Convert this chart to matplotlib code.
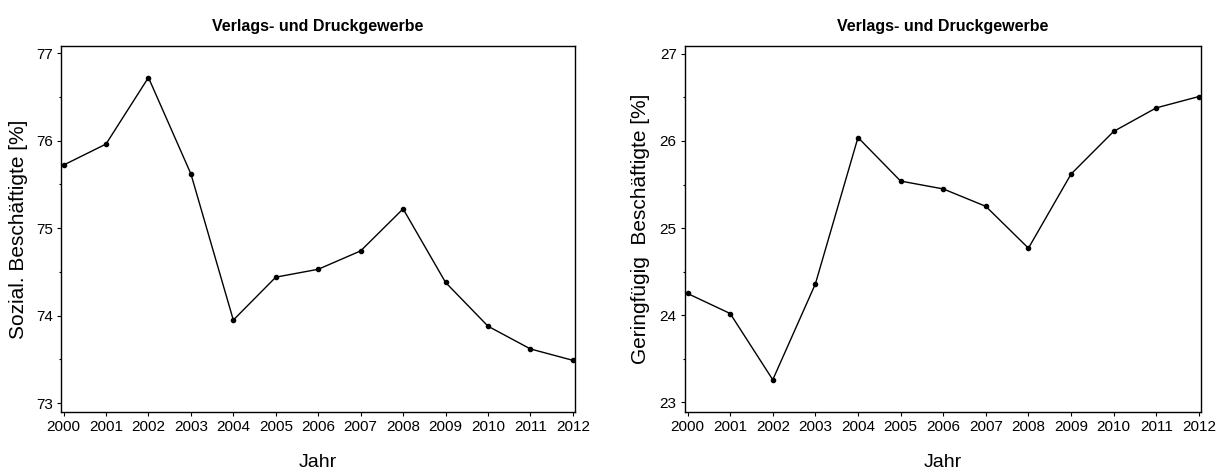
import matplotlib
matplotlib.use("Agg")
import matplotlib.pyplot as plt
from matplotlib.ticker import MultipleLocator
from matplotlib import font_manager

years = [2000, 2001, 2002, 2003, 2004, 2005, 2006, 2007, 2008, 2009, 2010, 2011, 2012]
sozial = [75.72, 75.96, 76.72, 75.62, 73.95, 74.44, 74.53, 74.74, 75.22, 74.38, 73.88, 73.62, 73.49]
gering = [24.25, 24.02, 23.26, 24.36, 26.04, 25.54, 25.45, 25.25, 24.77, 25.62, 26.11, 26.38, 26.51]
title = "Verlags- und Druckgewerbe"
xlabel = "Jahr"
ylabels = ["Sozial. Beschäftigte [%]", "Geringfügig  Beschäftigte [%]"]

names = {f.name for f in font_manager.fontManager.ttflist}
narrow = "Liberation Sans Narrow" if "Liberation Sans Narrow" in names else "Liberation Sans"
regular = "Liberation Sans"

fig = plt.figure(figsize=(12.16, 4.70), dpi=100)
axes_specs = [
    (61 / 1216, 575 / 1216, sozial, (72.9, 77.08), [73, 74, 75, 76, 77], ylabels[0], 28),
    (685 / 1216, 1201 / 1216, gering, (22.89, 27.09), [23, 24, 25, 26, 27], ylabels[1], 650),
]
bottom = 1 - 412 / 470
top = 1 - 46 / 470
for left, right, vals, ylim, yt, yl, ylx in axes_specs:
    ax = fig.add_axes([left, bottom, right - left, top - bottom])
    ax.plot(years, vals, color="black", lw=1.0, marker="o", ms=3)
    ax.set_xlim(1999.94, 2012.05)
    ax.set_ylim(*ylim)
    ax.set_xticks(years)
    ax.set_yticks(yt)
    ax.yaxis.set_minor_locator(MultipleLocator(0.5))
    ax.tick_params(axis="both", which="major", direction="out", length=3, width=0.8,
                   labelsize=11, pad=3)
    ax.tick_params(axis="y", which="minor", direction="out", length=1.5, width=0.8)
    for lab in ax.get_xticklabels() + ax.get_yticklabels():
        lab.set_fontfamily(narrow)
    for s in ax.spines.values():
        s.set_linewidth(1.0)
    ax.set_title(title, fontfamily=narrow, fontweight="bold", fontsize=11.5, pad=11)
    ax.set_xlabel(xlabel, fontfamily=narrow, fontsize=14, labelpad=14)
    ax.set_ylabel(yl, fontfamily=regular, fontsize=15)
    ax.yaxis.set_label_coords((ylx - left * 1216) / ((right - left) * 1216), 0.5)

fig.savefig("out.png", dpi=100)
